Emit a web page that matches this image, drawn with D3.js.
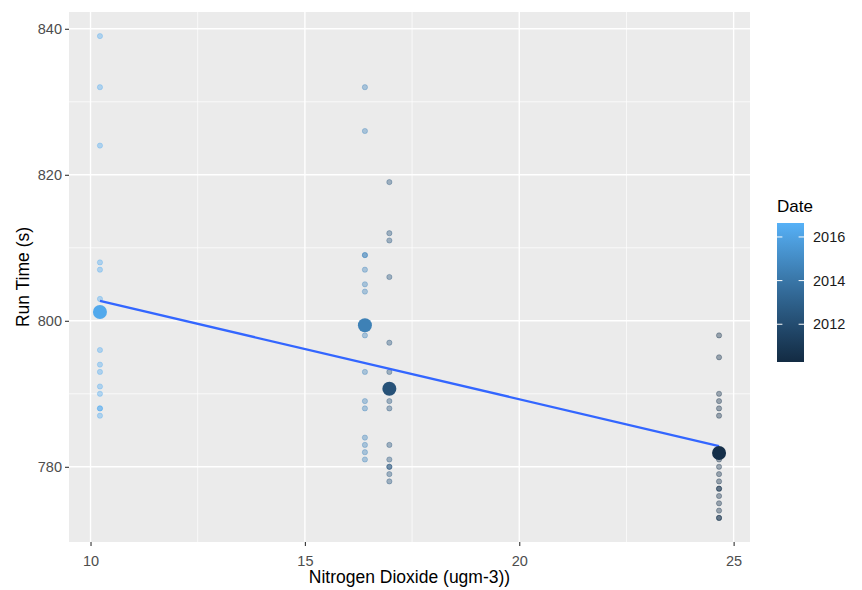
<!DOCTYPE html>
<html>
<head>
<meta charset="utf-8">
<script src="https://cdn.jsdelivr.net/npm/d3@7"></script>
<style>
  body { margin: 0; background: #fff; }
  text { font-family: "Liberation Sans", Arial, sans-serif; }
</style>
</head>
<body>
<div id="container"></div>
<script>
// NO2 level of each group of runs, and the year (as decimal date) used for the colour
let no2Levels = [10.22, 16.4, 16.97, 24.66],
  runYears = [2016.4, 2014.7, 2012.5, 2010.7],
  runTimes = [
    [839, 832, 824, 808, 807, 803, 796, 794, 793, 791, 790, 788, 788, 787],
    [832, 826, 809, 809, 807, 805, 804, 798, 793, 789, 788, 784, 783, 782, 781],
    [819, 812, 811, 806, 797, 793, 789, 788, 783, 781, 780, 780, 779, 778],
    [798, 795, 790, 789, 788, 787, 782, 781, 780, 779, 778, 777, 777, 776, 775, 774, 773, 773]
  ],
  meanTimes = [801.2, 799.4, 790.7, 781.9],
  meanYears = [2016.3, 2014.5, 2012.3, 2010.5],
  dateRange = [2010.27, 2016.64],
  xTicks = [10, 15, 20, 25],
  xMinor = [12.5, 17.5, 22.5],
  yTicks = [780, 800, 820, 840],
  yMinor = [790, 810, 830],
  legendTicks = [2012, 2014, 2016]

let width = 862,
  height = 590,
  panel = { left: 69, right: 750, top: 12, bottom: 542 }

let svg = d3.select('#container')
  .append('svg')
  .attr('width', width)
  .attr('height', height)

// flatten the groups into points
let points = []
runTimes.forEach(function (times, i) {
  times.forEach(function (t) {
    points.push({ x: no2Levels[i], y: t, date: runYears[i] })
  })
})
let means = meanTimes.map(function (t, i) {
  return { x: no2Levels[i], y: t, date: meanYears[i] }
})

// ggplot style 5% expansion
function expand(ext) {
  let pad = (ext[1] - ext[0]) * 0.05
  return [ext[0] - pad, ext[1] + pad]
}

let scale_x = d3.scaleLinear()
  .domain(expand(d3.extent(points, d => d.x)))
  .range([panel.left, panel.right])

let scale_y = d3.scaleLinear()
  .domain(expand(d3.extent(points, d => d.y)))
  .range([panel.bottom, panel.top])

let colour = d3.scaleLinear()
  .domain(dateRange)
  .range(['#132B43', '#56B1F7'])
  .interpolate(d3.interpolateLab)

// panel background
svg.append('rect')
  .attr('x', panel.left)
  .attr('y', panel.top)
  .attr('width', panel.right - panel.left)
  .attr('height', panel.bottom - panel.top)
  .attr('fill', '#EBEBEB')

let grid = svg.append('g')
grid.selectAll('.vminor').data(xMinor).enter().append('line')
  .attr('x1', d => scale_x(d)).attr('x2', d => scale_x(d))
  .attr('y1', panel.top).attr('y2', panel.bottom)
  .attr('stroke', '#fff').attr('stroke-width', 0.7)
grid.selectAll('.hminor').data(yMinor).enter().append('line')
  .attr('y1', d => scale_y(d)).attr('y2', d => scale_y(d))
  .attr('x1', panel.left).attr('x2', panel.right)
  .attr('stroke', '#fff').attr('stroke-width', 0.7)
grid.selectAll('.vmajor').data(xTicks).enter().append('line')
  .attr('x1', d => scale_x(d)).attr('x2', d => scale_x(d))
  .attr('y1', panel.top).attr('y2', panel.bottom)
  .attr('stroke', '#fff').attr('stroke-width', 1.4)
grid.selectAll('.hmajor').data(yTicks).enter().append('line')
  .attr('y1', d => scale_y(d)).attr('y2', d => scale_y(d))
  .attr('x1', panel.left).attr('x2', panel.right)
  .attr('stroke', '#fff').attr('stroke-width', 1.4)

// individual runs
svg.append('g').selectAll('circle')
  .data(points).enter().append('circle')
  .attr('cx', d => scale_x(d.x))
  .attr('cy', d => scale_y(d.y))
  .attr('r', 2.6)
  .attr('fill', d => colour(d.date))
  .attr('fill-opacity', 0.4)
  .attr('stroke', d => colour(d.date))
  .attr('stroke-opacity', 0.35)
  .attr('stroke-width', 1)

// linear fit through the yearly means
let mx = d3.mean(means, d => d.x),
  my = d3.mean(means, d => d.y),
  slope = d3.sum(means, d => (d.x - mx) * (d.y - my)) / d3.sum(means, d => (d.x - mx) * (d.x - mx)),
  fitX = d3.extent(means, d => d.x)

svg.append('path')
  .datum(fitX.map(x => [x, my + slope * (x - mx)]))
  .attr('d', d3.line().x(d => scale_x(d[0])).y(d => scale_y(d[1])))
  .attr('fill', 'none')
  .attr('stroke', '#3366FF')
  .attr('stroke-width', 2.3)

// yearly means
svg.append('g').selectAll('circle')
  .data(means).enter().append('circle')
  .attr('cx', d => scale_x(d.x))
  .attr('cy', d => scale_y(d.y))
  .attr('r', 7)
  .attr('fill', d => colour(d.date))

// axes
let x_axis = d3.axisBottom(scale_x).tickValues(xTicks).tickSize(4).tickPadding(3)
let y_axis = d3.axisLeft(scale_y).tickValues(yTicks).tickSize(4).tickPadding(3)

let gx = svg.append('g')
  .attr('transform', 'translate(0,' + panel.bottom + ')')
  .call(x_axis)
let gy = svg.append('g')
  .attr('transform', 'translate(' + panel.left + ',0)')
  .call(y_axis)

;[gx, gy].forEach(function (g) {
  g.select('.domain').remove()
  g.selectAll('.tick line').attr('stroke', '#333').attr('stroke-width', 1.1)
  g.selectAll('.tick text')
    .attr('fill', '#4D4D4D')
    .style('font-size', '14.5px')
    .style('font-family', '"Liberation Sans", Arial, sans-serif')
})
gx.selectAll('.tick text').attr('dy', '1.15em')

// axis titles
svg.append('text')
  .attr('x', (panel.left + panel.right) / 2)
  .attr('y', 583)
  .attr('text-anchor', 'middle')
  .style('font-size', '17.5px')
  .attr('fill', '#000')
  .text('Nitrogen Dioxide (ugm-3))')

svg.append('text')
  .attr('transform', 'translate(29,' + (panel.top + panel.bottom) / 2 + ') rotate(-90)')
  .attr('text-anchor', 'middle')
  .style('font-size', '17.5px')
  .attr('fill', '#000')
  .text('Run Time (s)')

// colour bar legend
let bar = { x: 777, y: 223, w: 27, h: 139 }
let scale_legend = d3.scaleLinear()
  .domain(dateRange)
  .range([bar.y + bar.h, bar.y])

let grad = svg.append('defs').append('linearGradient')
  .attr('id', 'dategrad')
  .attr('x1', 0).attr('y1', 1).attr('x2', 0).attr('y2', 0)
grad.selectAll('stop')
  .data(d3.range(0, 1.0001, 0.1))
  .enter().append('stop')
  .attr('offset', d => d)
  .attr('stop-color', d => colour(dateRange[0] + d * (dateRange[1] - dateRange[0])))

svg.append('text')
  .attr('x', bar.x)
  .attr('y', 212)
  .style('font-size', '17px')
  .attr('fill', '#000')
  .text('Date')

svg.append('rect')
  .attr('x', bar.x).attr('y', bar.y)
  .attr('width', bar.w).attr('height', bar.h)
  .attr('fill', 'url(#dategrad)')

let lt = svg.append('g').selectAll('g')
  .data(legendTicks).enter().append('g')
  .attr('transform', d => 'translate(0,' + scale_legend(d) + ')')
lt.append('line')
  .attr('x1', bar.x).attr('x2', bar.x + 5.4)
  .attr('stroke', '#fff').attr('stroke-width', 1)
lt.append('line')
  .attr('x1', bar.x + bar.w - 5.4).attr('x2', bar.x + bar.w)
  .attr('stroke', '#fff').attr('stroke-width', 1)
lt.append('text')
  .attr('x', 813)
  .attr('dy', '0.36em')
  .style('font-size', '14.5px')
  .attr('fill', '#1a1a1a')
  .text(d => d)
</script>
</body>
</html>
